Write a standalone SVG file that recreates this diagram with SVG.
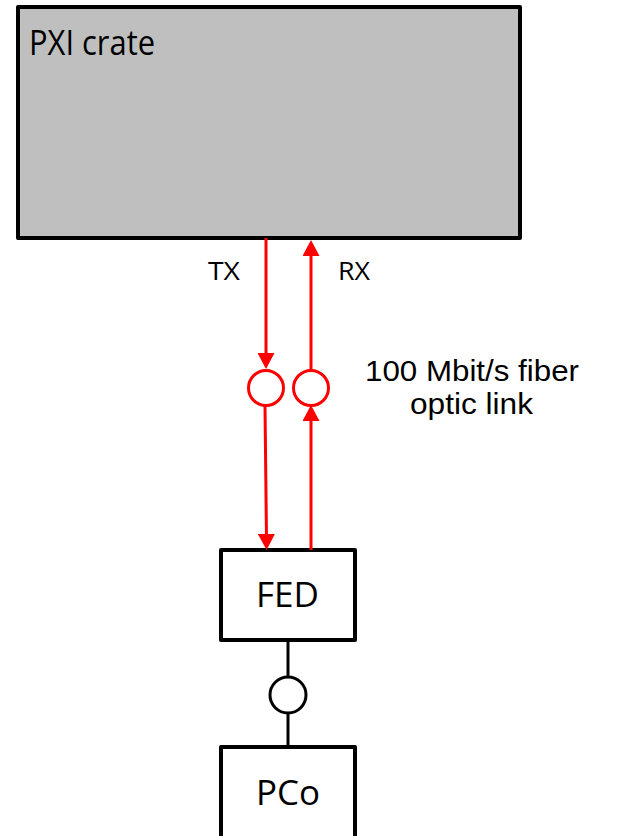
<svg xmlns="http://www.w3.org/2000/svg" width="623" height="836" viewBox="0 0 623 836">
<defs>
<style>
.box{stroke:#000;stroke-width:4;stroke-linejoin:round}
.lbl{font-family:"Open Sans","Liberation Sans",Arial,sans-serif;fill:#000}
.txt{font-family:"Liberation Sans",Arial,sans-serif;fill:#000}
.red{stroke:#ff0000;stroke-width:3;fill:none}
.blk{stroke:#000;stroke-width:3;fill:none}
</style>
<marker id="ah" markerUnits="userSpaceOnUse" markerWidth="16" markerHeight="17" viewBox="0 0 16 17" refX="5" refY="8.5" orient="auto">
<path d="M0,0 L16,8.5 L0,17 z" fill="#ff0000"/>
</marker>
</defs>
<g id="pxi-crate">
<rect class="box" x="18" y="7" width="502" height="231" fill="#bfbfbf"/>
<text class="lbl" x="29" y="55" font-size="35" textLength="126" lengthAdjust="spacingAndGlyphs">PXI crate</text>
</g>
<g id="fed">
<rect class="box" x="221" y="550" width="134" height="90" fill="#fff" stroke-width="3.5"/>
<text class="lbl" x="256" y="607" font-size="35" textLength="63" lengthAdjust="spacingAndGlyphs">FED</text>
</g>
<g id="pco">
<rect class="box" x="221" y="747" width="134" height="100" fill="#fff" stroke-width="3.5"/>
<text class="lbl" x="256" y="805" font-size="35" textLength="64" lengthAdjust="spacingAndGlyphs">PCo</text>
</g>
<g id="tx-optic">
<circle class="red" cx="266" cy="388" r="17.5"/>
</g>
<g id="rx-optic">
<circle class="red" cx="311" cy="388" r="17.5"/>
</g>
<g id="cu-link">
<circle class="blk" cx="288" cy="695" r="18"/>
</g>
<g id="connectors">
<line class="red" x1="266" y1="238" x2="266" y2="358" marker-end="url(#ah)"/>
<line class="red" x1="265" y1="406" x2="266.5" y2="539" marker-end="url(#ah)"/>
<line class="red" x1="311" y1="550" x2="311" y2="416" marker-end="url(#ah)"/>
<line class="red" x1="311" y1="370" x2="311" y2="251" marker-end="url(#ah)"/>
<line class="blk" x1="288" y1="640" x2="288" y2="677"/>
<line class="blk" x1="288" y1="713" x2="288" y2="747"/>
</g>
<g id="labels">
<text class="lbl" x="208" y="280" font-size="25" textLength="32" lengthAdjust="spacingAndGlyphs">TX</text>
<text class="lbl" x="338" y="280" font-size="25" textLength="32" lengthAdjust="spacingAndGlyphs">RX</text>
<text class="txt" x="365" y="381" font-size="29" textLength="214" lengthAdjust="spacingAndGlyphs">100 Mbit/s fiber</text>
<text class="txt" x="410" y="414" font-size="29" textLength="123" lengthAdjust="spacingAndGlyphs">optic link</text>
</g>
</svg>
